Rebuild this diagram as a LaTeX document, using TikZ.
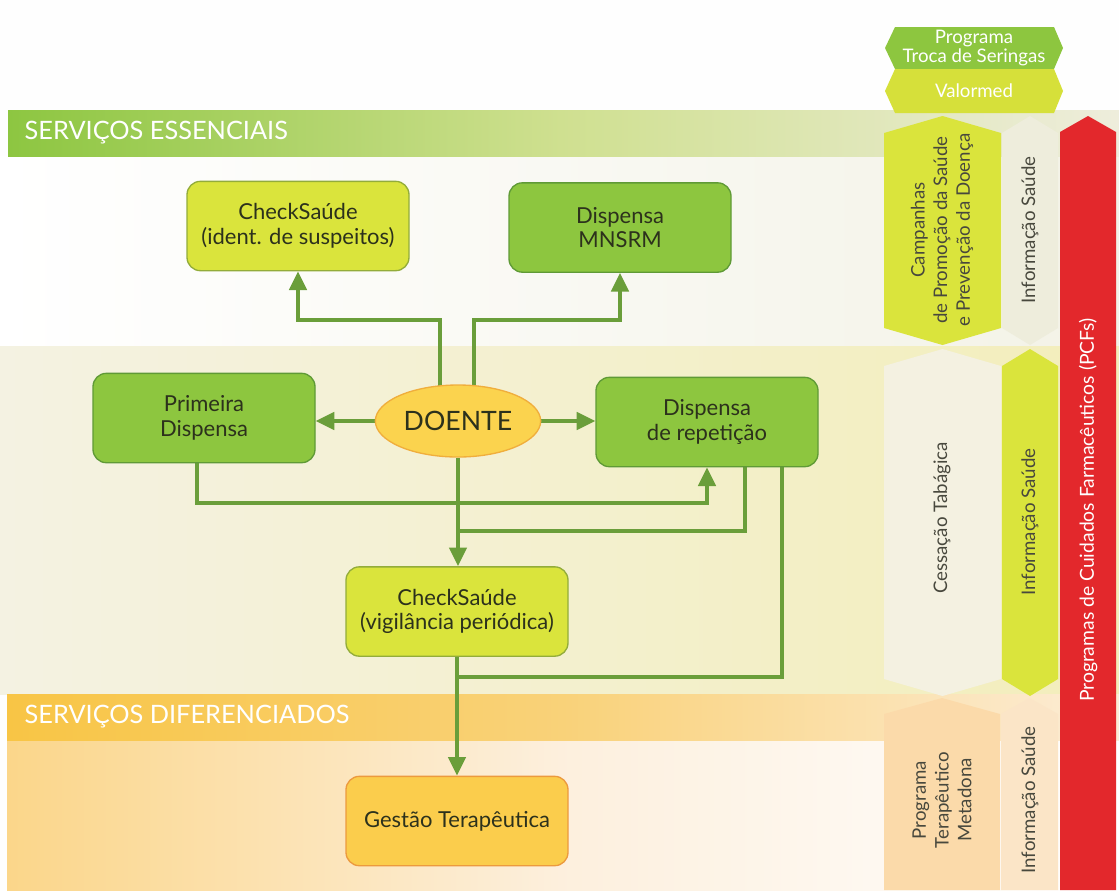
\documentclass[tikz,border=0pt]{standalone}
\usepackage{fontspec}
\setmainfont{Lato}
\usetikzlibrary{arrows.meta,shapes.geometric,calc}

\definecolor{leaf}{HTML}{8DC63F}
\definecolor{leafedge}{HTML}{5F9A36}
\definecolor{lime}{HTML}{DAE43C}
\definecolor{limeedge}{HTML}{93AC3A}
\definecolor{wire}{HTML}{6A9E3A}
\definecolor{sun}{HTML}{FBD34E}
\definecolor{sunedge}{HTML}{F0AE3C}
\definecolor{amber}{HTML}{FBCD4C}
\definecolor{amberedge}{HTML}{EC9A3E}
\definecolor{ink}{HTML}{2C311C}
\definecolor{greyink}{HTML}{48483D}
\definecolor{cream}{HTML}{F4F1E1}
\definecolor{creamtop}{HTML}{EEEDDC}
\definecolor{peach}{HTML}{FBDAAA}
\definecolor{peachlight}{HTML}{FBE5C7}
\definecolor{pcfred}{HTML}{E3282C}
\definecolor{valor}{HTML}{D6E03A}
\definecolor{bandgreen}{HTML}{8DC641}
\definecolor{bandgold}{HTML}{F8C545}
\definecolor{paleyellow}{HTML}{F3EEBB}
\definecolor{palecream}{HTML}{F4F2E2}
\definecolor{paleorange}{HTML}{FBD68A}

\pgfdeclarelayer{paper}
\pgfdeclarelayer{wires}
\pgfsetlayers{paper,wires,main}

\tikzset{
  boxtext/.style={font=\fontsize{16.5}{18.5}\selectfont, text=ink, align=center},
  box/.style={boxtext, rounded corners=10pt, minimum width=166.5pt,
    minimum height=67pt, inner sep=0pt, line width=1pt},
  greenbox/.style={box, fill=leaf, draw=leafedge},
  limebox/.style={box, fill=lime, draw=limeedge},
  amberbox/.style={box, fill=amber, draw=amberedge},
  patient/.style={ellipse, fill=sun, draw=sunedge, line width=1pt,
    minimum width=124pt, minimum height=54pt, inner sep=0pt,
    font=\fontsize{20}{23}\selectfont, text=ink},
  wire/.style={draw=wire, line width=2.8pt},
  flow/.style={wire, -{Triangle[length=14pt,width=13pt]}},
  bandtitle/.style={anchor=west, text=white, font=\fontsize{19}{22}\selectfont},
  coltext/.style={rotate=90, align=center, text=greyink,
    font=\fontsize{14}{17}\selectfont},
  tagtext/.style={align=center, text=white, font=\fontsize{14}{14.5}\selectfont},
}

% column shape pointed at top and bottom: fill, left x, right x, top y, bottom y
\newcommand\colhex[5]{%
  \fill[#1] (#2,#4+17) -- ({(#2+#3)/2},#4) -- (#3,#4+17) -- (#3,#5-17)
    -- ({(#2+#3)/2},#5) -- (#2,#5-17) -- cycle;}
% column shape pointed at top only, running to the lower edge
\newcommand\colhexopen[5]{%
  \fill[#1] (#2,#4+16) -- ({(#2+#3)/2},#4) -- (#3,#4+16) -- (#3,#5)
    -- (#2,#5) -- cycle;}

\begin{document}
\begin{tikzpicture}[x=0.75pt,y=-0.75pt]
\useasboundingbox (0,0) rectangle (1119,890);

% ---------- background bands and program columns ----------
\begin{pgfonlayer}{paper}
  \fill[white!97!creamtop] (0,0) rectangle (1119,890);
  \fill[left color=white, right color=creamtop!70] (0,156) rectangle (1119,346);
  \fill[left color=palecream, right color=paleyellow] (0,346) rectangle (1119,694);
  \fill[left color=paleorange, right color=white, middle color=peachlight!60]
    (7,740) rectangle (1119,890);
  \fill[left color=bandgreen, right color=creamtop, middle color=bandgreen!35!paleyellow]
    (8,110) rectangle (1119,156);
  \fill[left color=bandgold, right color=peachlight!70, middle color=bandgold!60!peachlight]
    (7,694) rectangle (1119,740);

  % program tags above the columns
  \fill[leaf] (885,48) -- (895,27) -- (1054,27) -- (1063,48) -- (1054,69) -- (895,69) -- cycle;
  \fill[valor] (885,91) -- (895,69) -- (1054,69) -- (1063,91) -- (1054,113) -- (895,113) -- cycle;

  % services columns
  \colhex{lime}{884}{1001}{116}{345}
  \colhex{creamtop}{1002}{1058}{116}{345}
  \colhex{cream}{884}{1001}{349}{696}
  \colhex{lime}{1002}{1058}{349}{696}
  \colhexopen{peach}{884}{1000}{698}{890}
  \colhexopen{peachlight}{1001}{1058}{698}{890}
  \colhexopen{pcfred}{1060}{1116}{116}{890}
\end{pgfonlayer}

% ---------- band titles and column labels ----------
\node[bandtitle] (essenciais) at (20,133) {SERVIÇOS ESSENCIAIS};
\node[bandtitle] (diferenciados) at (20,717) {SERVIÇOS DIFERENCIADOS};

\node[tagtext] (seringas) at (974,48) {Programa\\Troca de Seringas};
\node[tagtext] (valormed) at (974,91) {Valormed};

\node[coltext] (campanhas) at (942,230) {Campanhas\\de Promoção da Saúde\\e Prevenção da Doença};
\node[coltext] (info1) at (1030,230) {Informação Saúde};
\node[coltext] (cessacao) at (942,518) {Cessação Tabágica};
\node[coltext] (info2) at (1030,522) {Informação Saúde};
\node[coltext] (metadona) at (942,800) {Programa\\Terapêutico\\Metadona};
\node[coltext] (info3) at (1030,800) {Informação Saúde};
\node[rotate=90, text=white, font=\fontsize{14.5}{17}\selectfont] (pcf) at (1088,510)
  {Programas de Cuidados Farmacêuticos (PCFs)};

% ---------- service nodes ----------
\node[limebox]  (ident)      at (298,226)   {CheckSaúde\\(ident. de suspeitos)};
\node[greenbox] (mnsrm)      at (620,227.5) {Dispensa\\MNSRM};
\node[greenbox] (primeira)   at (204,418)   {Primeira\\Dispensa};
\node[patient]  (doente)     at (458,421)   {DOENTE};
\node[greenbox] (repeticao)  at (707,422)   {Dispensa\\de repetição};
\node[limebox]  (vigilancia) at (457,611.5) {CheckSaúde\\(vigilância periódica)};
\node[amberbox] (gestao)     at (457,821)   {Gestão Terapêutica};

% ---------- connectors ----------
\begin{pgfonlayer}{wires}
  \draw[flow] ($(doente.center)+(-18,0)$) -- ++(0,-101) -| (ident.south);
  \draw[flow] ($(doente.center)+(16,0)$) -- ++(0,-101) -| (mnsrm.south);
  \draw[flow] (doente.west) -- (doente.west -| primeira.east);
  \draw[flow] (doente.east) -- (doente.east -| repeticao.west);
  \draw[flow] ($(primeira.south)+(-7,0)$) -- ++(0,40) -| (repeticao.south);
  \draw[flow] (doente.south) -- (doente.south |- vigilancia.north);
  \draw[wire] ($(repeticao.south)+(38,0)$) |- ($(doente.south)+(0,73)$);
  \draw[wire] ($(repeticao.south)+(75,0)$) |- ($(vigilancia.south)+(0,20)$);
  \draw[flow] (vigilancia.south) -- (gestao.north);
\end{pgfonlayer}
\end{tikzpicture}
\end{document}
